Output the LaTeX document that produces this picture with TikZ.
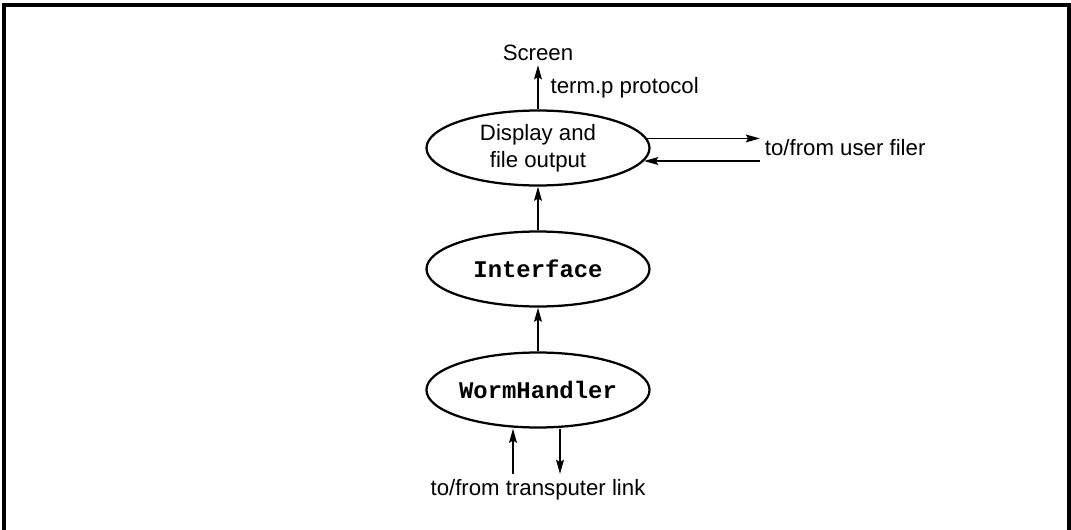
\documentclass[tikz,border=0pt]{standalone}
\usepackage{fontspec}
\setmainfont{Liberation Sans}
\setmonofont{Liberation Mono}
\usepackage{tikz}
\usetikzlibrary{shapes.geometric,arrows.meta,positioning}

\begin{document}
\begin{tikzpicture}[
    proc/.style={ellipse, draw=black, line width=1.6pt, minimum width=5.575cm, minimum height=1.875cm, inner sep=0pt, align=center, font=\fontsize{15.8}{19.2}\selectfont},
    codeproc/.style={proc, font=\fontsize{17}{20}\selectfont\ttfamily\bfseries},
    lbl/.style={font=\fontsize{15.8}{19}\selectfont},
    arr/.style={-{Stealth[length=10pt, width=5.5pt, inset=1.5pt]}, line width=1.3pt},
  ]

    \useasboundingbox (0,0) rectangle (26.775,-13.25);

    % Frame (open at the bottom)
    \draw[line width=2.2pt] (0.1,-13.25) -- (0.1,-0.125) -- (26.725,-0.125) -- (26.725,-13.25);

    % --- processes ---
    \node[proc] (disp) at (13.45,-3.7) {Display and\\file output};
    \node[codeproc] (iface) at (13.45,-6.725) {Interface};
    \node[codeproc] (worm) at (13.45,-9.75) {WormHandler};

    % --- outside ends ---
    \node[lbl, anchor=base] (screen) at (13.45,-1.5) {Screen};
    \node[lbl, anchor=west] (filer) at (19.0,-3.7) {to/from user filer};
    \node[lbl, anchor=base] (link) at (13.45,-12.375) {to/from transputer link};

    \draw[arr] (disp.north) -- node[lbl, right=5pt] {term.p protocol} (screen.south);
    \draw[arr] (iface) -- (disp);
    \draw[arr] (worm) -- (iface);

    % user filer
    \draw[arr] (disp.5) -- (disp.5 -| filer.west);
    \draw[arr] (disp.-7 -| filer.west) -- (disp.-7);

    % transputer link
    \draw[arr] ([xshift=-0.625cm]link.north) -- ([xshift=-0.625cm]worm.south);
    \draw[arr] ([xshift=0.55cm]worm.south) -- ([xshift=0.55cm]link.north);

  \end{tikzpicture}
\end{document}
